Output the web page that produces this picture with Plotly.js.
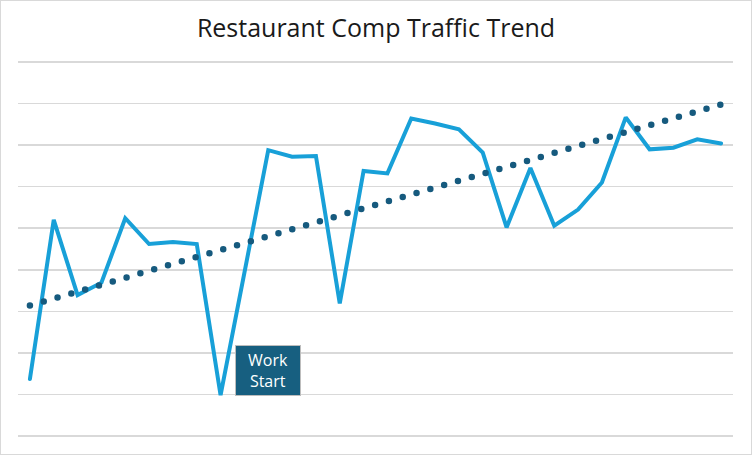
<!DOCTYPE html>
<html>
<head>
<meta charset="utf-8">
<script src="https://cdn.plot.ly/plotly-3.0.1.min.js"></script>
<style>
  html, body { margin: 0; padding: 0; background: #fff; }
  #chart { width: 750px; height: 453px; border: 1px solid #d9d9d9; }
  #chart .js-line { stroke-linecap: round; }
</style>
</head>
<body>
<div id="chart"></div>
<script>
// weekly comp traffic index (gridline units)
const weeks = [1, 2, 3, 4, 5, 6, 7, 8, 9, 10, 11, 12, 13, 14, 15,
               16, 17, 18, 19, 20, 21, 22, 23, 24, 25, 26, 27, 28, 29, 30];
const traffic = [1.37, 5.20, 3.39, 3.69, 5.24, 4.62, 4.67, 4.62, 0.98, 3.93,
                 6.88, 6.72, 6.74, 3.19, 6.38, 6.32, 7.64, 7.52, 7.38, 6.82,
                 5.02, 6.45, 5.06, 5.45, 6.10, 7.67, 6.90, 6.94, 7.14, 7.04];
// linear trend, start and end
const trendWeeks = [1, 30];
const trendValues = [3.14, 7.98];

const data = [
    {
        x: weeks,
        y: traffic,
        type: 'scatter',
        mode: 'lines',
        line: { color: '#18a0d8', width: 4 },
        hoverinfo: 'skip',
    },
    {
        x: trendWeeks,
        y: trendValues,
        type: 'scatter',
        mode: 'lines',
        line: { color: '#165a7e', width: 6.5, dash: '0px,14.38px' },
        hoverinfo: 'skip',
    },
];

const layout = {
    width: 750,
    height: 453,
    showlegend: false,
    paper_bgcolor: '#ffffff',
    plot_bgcolor: '#ffffff',
    title: {
        text: 'Restaurant Comp Traffic Trend',
        font: { family: 'Open Sans', size: 25, color: '#1a1a1a' },
        x: 0.5,
        xanchor: 'center',
        y: 0.94,
        yanchor: 'middle',
    },
    margin: { l: 17, r: 18, t: 59, b: 16 },
    xaxis: {
        range: [0.5, 30.5],
        showticklabels: false,
        showgrid: false,
        zeroline: false,
        showline: false,
        fixedrange: true,
    },
    yaxis: {
        range: [-0.05, 9.05],
        tick0: 0,
        dtick: 1,
        showticklabels: false,
        showgrid: true,
        gridcolor: '#d9d9d9',
        gridwidth: 1.5,
        zeroline: false,
        showline: false,
        fixedrange: true,
    },
    annotations: [{
        x: 11,
        y: 1.57,
        xref: 'x',
        yref: 'y',
        text: 'Work<br>Start',
        showarrow: false,
        font: { family: 'Open Sans', size: 16, color: '#ffffff' },
        bgcolor: '#175f80',
        bordercolor: '#bdbdbd',
        borderwidth: 1,
        width: 62,
        height: 47,
        align: 'center',
        valign: 'middle',
    }],
};

Plotly.newPlot('chart', data, layout, { displayModeBar: false, staticPlot: true });
</script>
</body>
</html>
